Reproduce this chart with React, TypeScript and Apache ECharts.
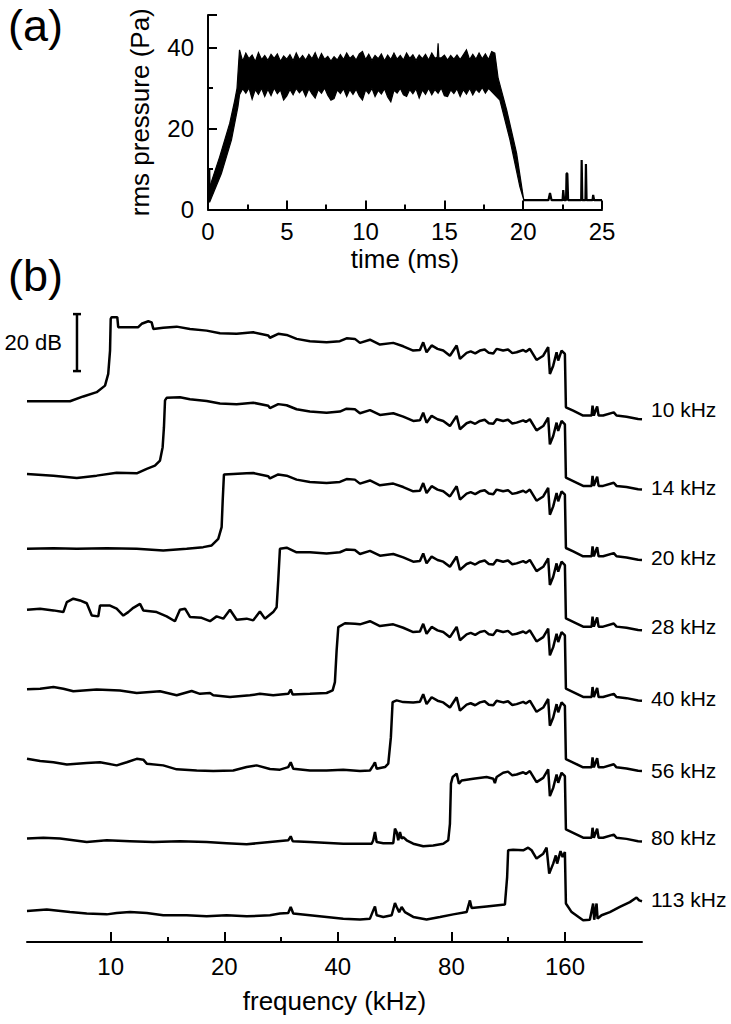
import React, { useEffect, useRef } from "react";
import * as echarts from "echarts";

const FONT = "'Liberation Sans', Arial, Helvetica, sans-serif";

// ---------- panel (a): rms pressure vs time (upper and lower edge of the dense trace) ----------
const timeUpper: number[][] = [
  [0, 2.5], [0.11, 5.6], [0.74, 13.0], [1.38, 21.3], [1.7, 27.0], [1.84, 29.9], [1.95, 36.5],
  [2.0, 39.4], [2.2, 36.6], [2.4, 38.6], [2.6, 37.2], [2.8, 38.1], [3.0, 36.5], [3.2, 38.7], [3.4, 37.0],
  [3.6, 38.0], [3.8, 36.8], [4.0, 38.3], [4.2, 37.3], [4.4, 38.4], [4.6, 36.6], [4.8, 37.9], [5.0, 37.1],
  [5.2, 38.2], [5.4, 36.7], [5.6, 38.6], [5.8, 37.0], [6.0, 38.0], [6.2, 36.9], [6.4, 38.3], [6.6, 37.2],
  [6.8, 38.7], [7.0, 36.8], [7.2, 38.5], [7.4, 37.1], [7.6, 37.8], [7.8, 36.6], [8.0, 37.7], [8.2, 36.9],
  [8.4, 38.2], [8.6, 37.0], [8.8, 38.6], [9.0, 37.3], [9.2, 38.0], [9.4, 36.9], [9.6, 38.4], [9.8, 39.0],
  [10.0, 37.0], [10.2, 38.3], [10.4, 36.8], [10.6, 38.0], [10.8, 37.2], [11.0, 38.4], [11.2, 36.7],
  [11.4, 38.1], [11.6, 37.0], [11.8, 38.6], [12.0, 37.1], [12.2, 38.0], [12.4, 36.9], [12.6, 38.6],
  [12.8, 37.3], [13.0, 38.2], [13.2, 36.8], [13.4, 38.1], [13.6, 37.2], [13.8, 38.3], [14.0, 36.9],
  [14.2, 38.6], [14.4, 37.3], [14.55, 37.6], [14.6, 41.0], [14.65, 37.4], [14.8, 37.4], [15.0, 38.1],
  [15.2, 36.9], [15.4, 38.0], [15.6, 37.1], [15.8, 38.1], [16.0, 37.0], [16.2, 38.2], [16.4, 39.4],
  [16.6, 37.0], [16.8, 38.3], [17.0, 37.1], [17.2, 38.6], [17.4, 37.2], [17.6, 38.4], [17.8, 37.0],
  [18.0, 39.0], [18.2, 38.6], [18.41, 32.4], [18.95, 24.6], [19.58, 13.9], [20.0, 3.2],
];
const timeLower: number[][] = [
  [0, 1.9], [0.11, 1.9], [0.85, 8.9], [1.49, 17.2], [1.9, 25.4],
  [2.0, 28.3], [2.2, 29.8], [2.4, 28.7], [2.6, 30.0], [2.8, 27.2], [3.0, 29.6], [3.2, 28.4], [3.4, 29.9],
  [3.6, 27.9], [3.8, 29.7], [4.0, 28.1], [4.2, 30.0], [4.4, 28.6], [4.6, 29.5], [4.8, 27.0], [5.0, 28.0],
  [5.2, 29.6], [5.4, 28.3], [5.6, 29.9], [5.8, 28.8], [6.0, 29.7], [6.2, 27.9], [6.4, 29.8], [6.6, 28.5],
  [6.8, 27.5], [7.0, 29.6], [7.2, 28.7], [7.4, 30.0], [7.6, 28.2], [7.8, 27.0], [8.0, 27.4], [8.2, 29.5],
  [8.4, 28.6], [8.6, 29.8], [8.8, 27.9], [9.0, 29.6], [9.2, 28.4], [9.4, 29.7], [9.6, 28.0], [9.8, 27.0],
  [10.0, 29.5], [10.2, 28.6], [10.4, 29.9], [10.6, 27.9], [10.8, 29.4], [11.0, 28.5], [11.2, 29.8],
  [11.4, 27.8], [11.6, 26.6], [11.8, 29.4], [12.0, 28.7], [12.2, 29.9], [12.4, 28.3], [12.6, 27.9],
  [12.8, 29.6], [13.0, 28.6], [13.2, 29.8], [13.4, 27.5], [13.6, 29.5], [13.8, 28.4], [14.0, 29.9],
  [14.2, 28.3], [14.4, 29.6], [14.6, 28.7], [14.8, 30.0], [15.0, 28.1], [15.2, 27.9], [15.4, 29.5],
  [15.6, 28.6], [15.8, 29.8], [16.0, 27.9], [16.2, 29.6], [16.4, 28.5], [16.6, 29.9], [16.8, 28.3],
  [17.0, 29.7], [17.2, 28.9], [17.4, 30.1], [17.6, 28.7], [17.8, 29.9], [18.0, 29.1],
  [18.52, 27.0], [19.16, 17.2], [19.79, 5.6], [20.04, 2.3],
];
const timeTail: number[][] = [
  [20.0, 2.3], [21.6, 2.3], [21.7, 4.1], [21.8, 2.3], [22.5, 2.3], [22.54, 4.8], [22.6, 2.3],
  [22.72, 2.3], [22.75, 8.9], [22.8, 8.9], [22.85, 2.3], [23.68, 2.3], [23.71, 12.2], [23.75, 2.3],
  [23.95, 2.3], [23.98, 11.2], [24.02, 2.3], [24.4, 2.3], [24.44, 3.6], [24.5, 2.3], [25.0, 2.3],
];
const startSpike: number[][] = [[0.08, 2.0], [0.1, 9.8], [0.13, 2.5]];

// ---------- panel (b): spectra, [frequency kHz, dB relative to trace reference] ----------
const lowRise10: number[][] = [
  [6.0, -17.2], [7.8, -17.2], [8.46, -15.5], [9.18, -14.0], [9.66, -11.7], [9.85, -7.6], [9.96, 0.6],
  [10.0, 11.7], [10.06, 12.3], [10.41, 12.3], [10.47, 8.8],
];
const lowRise14: number[][] = [
  [6.0, -18.0], [7.05, -18.6], [8.13, -19.4], [9.18, -18.6], [10.37, -17.6], [11.72, -17.8], [12.46, -16.2],
  [13.1, -15.1], [13.51, -13.3], [13.73, -8.6], [13.84, -1.6], [13.93, 7.8], [14.07, 8.7], [15.26, 8.9],
];
const lowRise20: number[][] = [
  [6.0, -19.6], [7.05, -19.4], [8.13, -19.6], [9.76, -19.4], [11.72, -19.6], [13.78, -20.2], [15.9, -19.6],
  [17.59, -19.0], [18.52, -18.4], [19.28, -16.1], [19.68, -12.0], [19.81, -2.6], [19.96, 6.5], [21.13, 6.7],
  [22.93, 6.9],
];
const lowRise28: number[][] = [
  [6.0, -16.3], [6.5, -15.9], [7.05, -16.5], [7.49, -17.1], [7.65, -13.6], [7.96, -12.4], [8.29, -13.0],
  [8.64, -14.0], [8.91, -18.3], [9.27, -18.6], [9.37, -14.8], [9.96, -14.8], [10.37, -15.9], [10.8, -18.3],
  [11.13, -17.1], [11.48, -15.6], [11.96, -14.2], [12.2, -16.5], [13.24, -17.1], [14.07, -18.6], [14.8, -20.3],
  [15.26, -16.3], [15.74, -15.9], [16.22, -18.8], [17.42, -19.1], [18.33, -20.3], [19.09, -18.6], [19.88, -19.4],
  [20.71, -16.3], [21.57, -19.8], [22.93, -19.4], [23.87, -20.0], [24.86, -16.9], [25.63, -19.4], [26.96, -17.1],
  [27.53, -15.4], [27.8, -6.0], [28.09, 5.1], [29.26, 5.5], [31.1, 3.9],
];
const lowRise40: number[][] = [
  [6.0, -19.5], [6.5, -19.3], [7.05, -18.7], [7.49, -19.3], [7.96, -20.2], [9.18, -19.6], [10.58, -19.9],
  [11.72, -20.8], [13.51, -20.2], [14.96, -21.6], [16.39, -20.1], [17.24, -21.1], [18.33, -20.8], [18.7, -21.6],
  [20.71, -22.2], [23.39, -21.6], [24.86, -21.1], [26.96, -21.6], [29.55, -21.1], [30.0, -19.6], [30.36, -21.3],
  [33.73, -21.1], [37.35, -20.8], [38.75, -19.9], [39.29, -17.0], [39.7, -5.9], [40.11, 2.3], [41.78, 3.7],
  [44.38, 3.5],
];
const lowRise56: number[][] = [
  [6.0, -19.2], [6.5, -20.0], [7.05, -20.4], [7.65, -21.2], [8.64, -20.7], [9.37, -20.4], [10.37, -21.5],
  [11.03, -20.4], [11.72, -19.2], [12.2, -19.5], [12.46, -20.9], [13.78, -21.5], [14.96, -22.9], [16.9, -23.3],
  [18.7, -23.5], [21.13, -23.3], [22.93, -22.1], [24.37, -21.5], [26.43, -22.8], [28.09, -23.0], [29.55, -22.1],
  [30.0, -20.4], [30.47, -22.7], [33.73, -23.3], [37.35, -23.3], [41.34, -23.0], [45.78, -23.5], [48.66, -23.3],
  [49.65, -21.5], [50.17, -20.4], [50.69, -22.7], [53.33, -22.1], [54.42, -20.9], [55.29, -11.6], [55.87, 0.7],
  [57.27, 1.3], [59.62, 0.7],
];
const lowRise80: number[][] = [
  [6.0, -22.5], [6.63, -22.2], [7.34, -22.5], [8.64, -23.7], [9.76, -23.1], [11.25, -23.4], [12.97, -23.7],
  [15.26, -23.4], [17.96, -23.7], [20.29, -24.1], [22.93, -24.5], [26.43, -23.7], [29.55, -23.1], [30.0, -21.7],
  [30.36, -23.4], [33.73, -23.7], [41.34, -24.3], [49.17, -24.3], [49.65, -23.1], [50.17, -20.2], [50.69, -23.7],
  [52.78, -24.1], [56.1, -24.1], [56.68, -19.0], [57.27, -20.2], [57.84, -23.1], [58.44, -20.2], [59.05, -22.5],
  [59.62, -22.0], [60.88, -23.1], [63.37, -24.3], [67.35, -25.2], [71.59, -24.9], [76.11, -24.3], [78.46, -23.1],
  [79.28, -17.3], [79.77, -3.2], [80.6, -0.9], [82.59, 0.3], [83.75, -3.2], [85.14, -2.1], [91.38, -1.5],
  [99.17, -0.9], [103.3, -1.5], [104.3, -3.0], [105.4, -0.9],
];
const trace113: number[][] = [
  [6.0, -23.2], [6.77, -22.7], [7.8, -23.6], [8.64, -24.1], [9.76, -24.4], [10.37, -23.9], [11.25, -23.6],
  [12.46, -23.9], [13.78, -24.7], [15.9, -24.7], [17.96, -25.1], [20.29, -24.7], [22.93, -25.1], [26.43, -24.7],
  [28.09, -24.1], [29.55, -23.9], [30.0, -21.8], [30.47, -24.1], [33.73, -24.7], [37.35, -25.3], [41.34, -25.9],
  [45.78, -26.2], [48.66, -25.9], [49.65, -23.0], [50.17, -21.6], [50.69, -24.7], [52.78, -25.3], [55.55, -24.7],
  [56.68, -20.4], [57.27, -21.8], [58.16, -23.6], [59.05, -21.8], [60.24, -23.6], [63.37, -25.3], [68.75, -26.2],
  [74.59, -25.3], [80.88, -24.4], [87.78, -23.6], [89.56, -19.5], [90.5, -22.2], [99.17, -21.6], [110.9, -20.9],
  [112.4, -11.3], [113.1, -1.9], [116.6, -1.7], [124.0, -1.9], [127.8, -1.0], [130.5, -1.9], [134.5, -4.8],
  [140.1, -3.1], [143.0, -1.0], [145.3, -10.1], [148.9, -6.6], [151.3, -3.7], [152.5, -6.6], [155.7, -2.2],
  [157.7, -4.3], [159.9, -2.5], [160.9, -20.6], [166.6, -23.6], [178.7, -26.5], [186.2, -26.3], [190.0, -20.6],
  [191.2, -26.3], [194.0, -20.6], [195.2, -25.9], [200.0, -24.7], [210.4, -23.6], [223.6, -21.8], [237.7, -20.1],
  [247.6, -18.5], [251.6, -19.5], [256.0, -19.8],
];
// common pass-band / stop-band shape above the cut-on frequency
const sharedBand: number[][] = [
  [11.83, 8.8], [12.08, 10.0], [12.58, 10.9], [12.84, 10.5], [12.97, 8.2], [13.78, 8.6], [14.96, 9.0],
  [16.22, 8.2], [17.96, 7.6], [19.48, 6.7], [21.57, 6.5], [23.87, 7.0], [26.16, 5.9], [26.43, 5.1],
  [27.8, 6.5], [29.26, 6.1], [31.1, 4.7], [33.73, 3.9], [37.35, 3.5], [40.5, 3.9], [42.19, 4.9],
  [44.38, 4.7], [45.78, 3.3], [48.66, 4.4], [51.72, 2.7], [56.1, 3.3], [59.62, 2.1], [63.37, 0.6],
  [66.01, 0.8], [67.35, 3.5], [68.75, 0], [70.9, 2.4], [73.5, 1.2], [76.11, 0.6], [79.28, -1.2], [82.59, 2.4],
  [84.27, -2.3], [87.78, -0.2], [90.0, 0.3], [92.5, -0.4], [95.21, 0.6], [98.0, 1.0], [100.5, -0.2],
  [103.3, -0.4], [105.4, 1.2], [109.7, 0.6], [113.0, 1.0], [116.0, -0.3], [119.1, 0], [124.0, 0.8],
  [126.0, 0.2], [129.1, 1.2], [134.5, -2.7], [140.1, -1.2], [144.4, 1.8], [145.9, -7.6], [148.9, -4.7],
  [152.0, 0], [153.5, -2.9], [156.7, 0.6], [159.9, -0.6], [160.9, -19.3], [168.2, -20.5], [178.7, -22.2],
  [188.2, -22.2], [189.3, -18.7], [190.8, -22.2], [194.7, -19.0], [196.4, -22.2], [201.9, -22.2],
  [215.5, -21.1], [219.1, -22.2], [232.9, -22.6], [250.0, -23.4], [256.0, -23.5],
];

const traceLabels = ["10 kHz", "14 kHz", "20 kHz", "28 kHz", "40 kHz", "56 kHz", "80 kHz", "113 kHz"];
const traceOffsets = [207.0, 182.3, 157.6, 132.9, 108.2, 83.5, 58.8, 34.1];
const labelShift = [-10, -2, -2, -4, -2, -1, -4, -2];
const ownParts = [lowRise10, lowRise14, lowRise20, lowRise28, lowRise40, lowRise56, lowRise80, trace113];

const freqTickLabels = [10, 20, 40, 80, 160];
const freqMinorTicks = [14.14, 28.28, 56.57, 113.1];
const freqMin = 6;
const freqMax = 256;

const scaleBarFreq = 8.14;
const scaleBarBottom = 200.4;
const scaleBarDb = 20;

const log2 = (v: number) => Math.log(v) / Math.LN2;

function buildOption() {
  const axisLineStyle = { color: "#000", width: 2 };
  const tickLine = { color: "#000", width: 2 };

  const traceSeries = ownParts.map((own, i) => {
    const last = own[own.length - 1][0];
    const rest = i === 7 ? [] : sharedBand.filter((p) => p[0] > last);
    const data = own.concat(rest).map(([f, d]) => [log2(f), d + traceOffsets[i]]);
    return {
      type: "line",
      name: traceLabels[i],
      xAxisIndex: 1,
      yAxisIndex: 2,
      data,
      showSymbol: false,
      symbol: "none",
      lineStyle: { color: "#000", width: 2.5 },
      itemStyle: { color: "#000" },
      endLabel: {
        show: true,
        formatter: traceLabels[i],
        color: "#000",
        fontSize: 21,
        fontFamily: FONT,
        distance: 9,
        offset: [0, labelShift[i]],
      },
      silent: true,
    };
  });

  return {
    animation: false,
    backgroundColor: "#fff",
    textStyle: { fontFamily: FONT },
    grid: [
      { left: 208, top: 15, width: 394, height: 194.5, outerBoundsMode: "none", containLabel: false },
      { left: 27, right: 89, top: 301, bottom: 82, outerBoundsMode: "none", containLabel: false },
    ],
    graphic: [
      { type: "text", x: 8, y: 25, style: { text: "(a)", fontSize: 45, fontFamily: FONT, fill: "#000", verticalAlign: "middle" } },
      { type: "text", x: 8, y: 275, style: { text: "(b)", fontSize: 45, fontFamily: FONT, fill: "#000", verticalAlign: "middle" } },
    ],
    xAxis: [
      {
        type: "value", gridIndex: 0, min: 0, max: 25, interval: 5,
        axisLine: { onZero: false, lineStyle: axisLineStyle },
        axisTick: { inside: true, length: 9, lineStyle: tickLine },
        minorTick: { show: true, splitNumber: 2, length: 5, lineStyle: tickLine },
        splitLine: { show: false }, minorSplitLine: { show: false },
        axisLabel: { color: "#000", fontSize: 24, margin: 10, fontFamily: FONT },
        name: "time (ms)", nameLocation: "middle", nameGap: 36,
        nameTextStyle: { color: "#000", fontSize: 26, fontFamily: FONT },
      },
      {
        type: "value", gridIndex: 1, min: log2(freqMin), max: log2(freqMax), position: "bottom",
        axisLine: { onZero: false, lineStyle: axisLineStyle },
        axisTick: { inside: true, length: 10, lineStyle: tickLine, customValues: freqTickLabels.map(log2) },
        splitLine: { show: false },
        axisLabel: {
          color: "#000", fontSize: 24, margin: 12, fontFamily: FONT,
          customValues: freqTickLabels.map(log2),
          formatter: (v: number) => String(Math.round(Math.pow(2, v))),
        },
        name: "frequency (kHz)", nameLocation: "middle", nameGap: 46,
        nameTextStyle: { color: "#000", fontSize: 26, fontFamily: FONT },
      },
      {
        type: "value", gridIndex: 1, min: log2(freqMin), max: log2(freqMax), position: "bottom",
        axisLine: { show: false, onZero: false },
        axisTick: { inside: true, length: 5, lineStyle: tickLine, customValues: freqMinorTicks.map(log2) },
        axisLabel: { show: false },
        splitLine: { show: false },
      },
    ],
    yAxis: [
      {
        type: "value", gridIndex: 0, min: 0, max: 48,
        axisLine: { show: true, onZero: false, lineStyle: axisLineStyle },
        axisTick: { show: true, inside: true, length: 9, lineStyle: tickLine, customValues: [0, 20, 40, 48] },
        splitLine: { show: false },
        axisLabel: { color: "#000", fontSize: 24, margin: 14, fontFamily: FONT, customValues: [0, 20, 40] },
        name: "rms pressure (Pa)", nameLocation: "middle", nameRotate: 90, nameGap: 55,
        nameTextStyle: { color: "#000", fontSize: 26, fontFamily: FONT },
      },
      {
        type: "value", gridIndex: 0, min: 0, max: 48, position: "left",
        axisLine: { show: false, onZero: false },
        axisTick: { show: true, inside: true, length: 5, lineStyle: tickLine, customValues: [10, 30] },
        axisLabel: { show: false },
        splitLine: { show: false },
      },
      { type: "value", gridIndex: 1, min: 0, max: 225, show: false, splitLine: { show: false } },
    ],
    series: [
      {
        type: "custom", xAxisIndex: 0, yAxisIndex: 0, data: [[0, 0]], silent: true,
        renderItem: (_p: any, api: any) => {
          const pts = timeUpper.map((p) => api.coord(p)).concat(timeLower.slice().reverse().map((p) => api.coord(p)));
          return { type: "polygon", shape: { points: pts }, style: { fill: "#000", stroke: "#000", lineWidth: 1.2 } };
        },
      },
      {
        type: "line", xAxisIndex: 0, yAxisIndex: 0, data: timeTail, showSymbol: false, symbol: "none",
        lineStyle: { color: "#000", width: 2.2 }, silent: true,
      },
      {
        type: "line", xAxisIndex: 0, yAxisIndex: 0, data: startSpike, showSymbol: false, symbol: "none",
        lineStyle: { color: "#000", width: 1.5 }, silent: true,
      },
      ...traceSeries,
      {
        type: "custom", xAxisIndex: 1, yAxisIndex: 2, data: [[log2(scaleBarFreq), scaleBarBottom]], silent: true,
        renderItem: (_p: any, api: any) => {
          const b = api.coord([log2(scaleBarFreq), scaleBarBottom]);
          const t = api.coord([log2(scaleBarFreq), scaleBarBottom + scaleBarDb]);
          const st = { stroke: "#000", lineWidth: 2.5 };
          return {
            type: "group",
            children: [
              { type: "line", shape: { x1: b[0], y1: b[1], x2: t[0], y2: t[1] }, style: st },
              { type: "line", shape: { x1: b[0] - 4, y1: b[1], x2: b[0] + 4, y2: b[1] }, style: st },
              { type: "line", shape: { x1: t[0] - 4, y1: t[1], x2: t[0] + 4, y2: t[1] }, style: st },
              {
                type: "text", x: b[0] - 15, y: (b[1] + t[1]) / 2,
                style: { text: "20 dB", fontSize: 22, fontFamily: FONT, fill: "#000", align: "right", verticalAlign: "middle" },
              },
            ],
          };
        },
      },
    ],
  };
}

export default function App() {
  const ref = useRef<HTMLDivElement>(null);
  useEffect(() => {
    if (!ref.current) return;
    const chart = echarts.init(ref.current, null, { renderer: "svg" });
    chart.setOption(buildOption() as any);
    return () => chart.dispose();
  }, []);
  return (
    <div
      ref={ref}
      style={{ position: "absolute", left: 0, top: 0, width: 731, height: 1024, background: "#fff" }}
    />
  );
}
